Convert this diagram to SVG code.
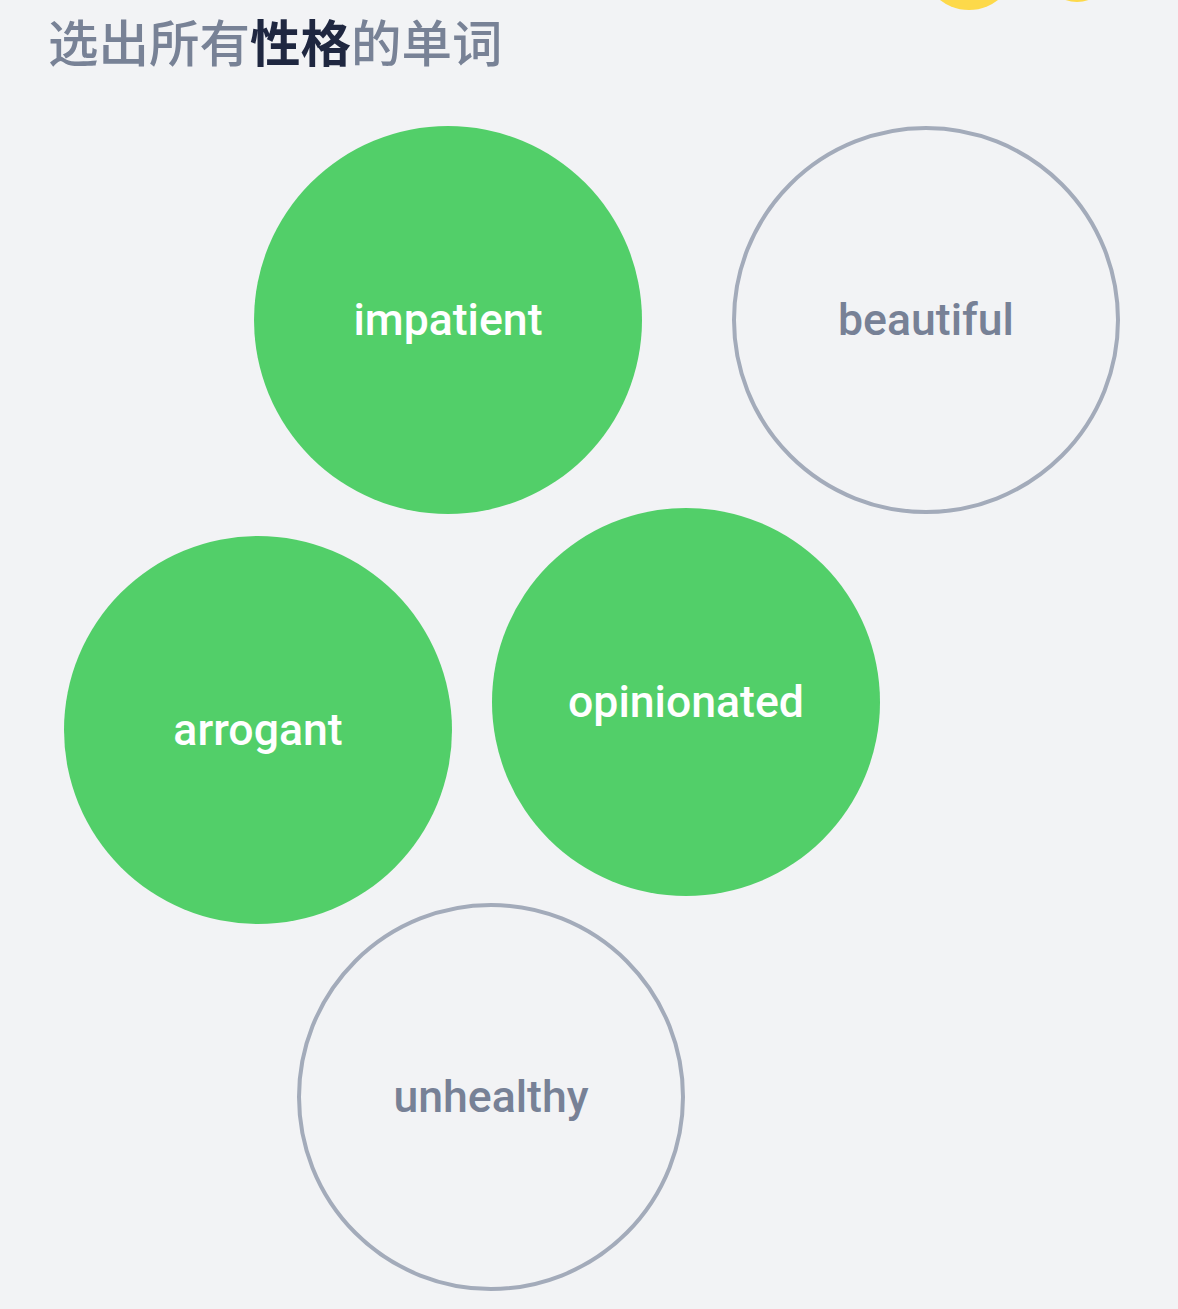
<svg xmlns="http://www.w3.org/2000/svg" width="1178" height="1309" viewBox="0 0 1178 1309">
<style>
.on{fill:#52cf69}
.off{fill:#f2f3f5;stroke:#a3abba;stroke-width:4}
.lbl{font-family:Roboto,"Noto Sans","Liberation Sans",sans-serif;font-weight:500;font-size:44.6px;text-anchor:middle}
.w{fill:#ffffff}
.g{fill:#778196}
.title{font-family:"Noto Sans CJK SC","Noto Sans",sans-serif;font-size:50.5px;font-weight:500;fill:#788296}
.dark{fill:#1f2740;font-weight:700}
</style>
<rect width="1178" height="1309" fill="#f2f3f5"/>
<g id="decor">
<circle cx="969" cy="-37" r="47" fill="#fdd94a"/>
<circle cx="1077" cy="-32" r="34" fill="#fdd94a"/>
</g>
<g id="title">
<text class="title" x="48" y="62">选出所有<tspan class="dark">性格</tspan>的单词</text>
</g>
<g id="connectors"></g>
<g id="node-impatient">
<circle class="on" cx="448" cy="320" r="194"/>
<text class="lbl w" x="448" y="335">impatient</text>
</g>
<g id="node-beautiful">
<circle class="off" cx="926" cy="320" r="192"/>
<text class="lbl g" x="926" y="335">beautiful</text>
</g>
<g id="node-arrogant">
<circle class="on" cx="258" cy="730" r="194"/>
<text class="lbl w" x="258" y="745">arrogant</text>
</g>
<g id="node-opinionated">
<circle class="on" cx="686" cy="702" r="194"/>
<text class="lbl w" x="686" y="717">opinionated</text>
</g>
<g id="node-unhealthy">
<circle class="off" cx="491" cy="1097" r="192"/>
<text class="lbl g" x="491" y="1112">unhealthy</text>
</g>
</svg>
